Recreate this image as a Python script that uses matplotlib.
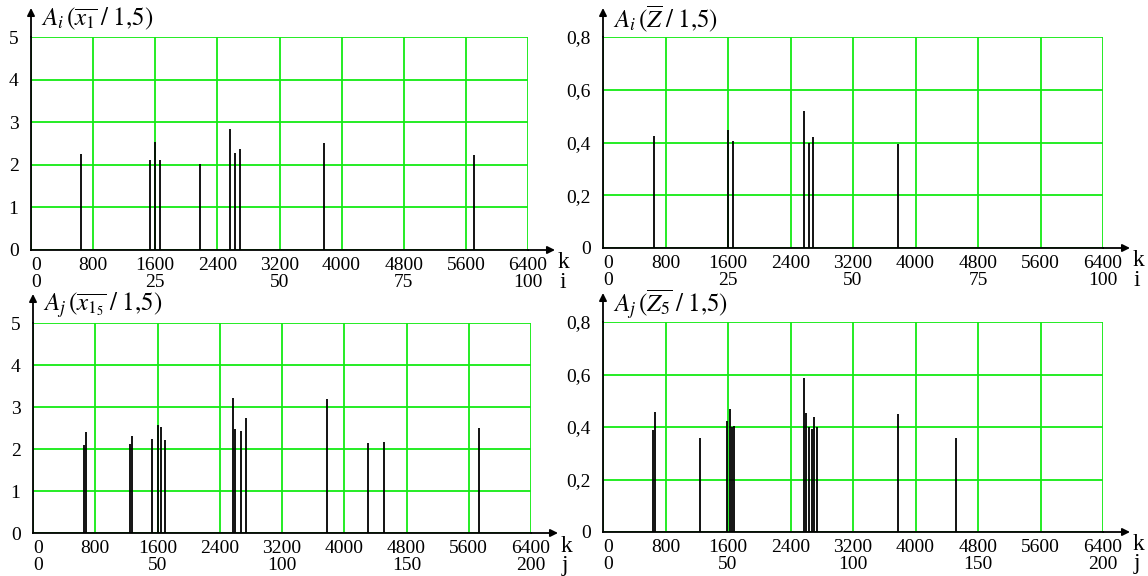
import matplotlib
matplotlib.use("Agg")
import matplotlib.pyplot as plt

# ---------------- data ----------------
k_ticks = [0, 800, 1600, 2400, 3200, 4000, 4800, 5600, 6400]
k_tick_labels = ["0", "800", "1600", "2400", "3200", "4000", "4800", "5600", "6400"]
i_ticks = [0, 25, 50, 75, 100]          # i -> k = 64*i
j_ticks = [0, 50, 100, 150, 200]        # j -> k = 32*j

y_ticks_x = [0, 1, 2, 3, 4, 5]
y_labels_x = ["0", "1", "2", "3", "4", "5"]
y_ticks_z = [0, 0.2, 0.4, 0.6, 0.8]
y_labels_z = ["0", "0,2", "0,4", "0,6", "0,8"]

# top-left: A_i(x1 / 1,5)
k_tl = [642, 1531, 1597, 1662, 2174, 2565, 2630, 2686, 3775, 5707]
a_tl = [2.26, 2.12, 2.54, 2.11, 2.01, 2.85, 2.27, 2.38, 2.51, 2.22]

# top-right: A_i(Z / 1,5)
k_tr = [647, 1601, 1663, 2569, 2636, 2688, 3774]
a_tr = [0.424, 0.449, 0.406, 0.521, 0.400, 0.420, 0.396]

# bottom-left: A_j(x1_5 / 1,5)
k_bl = [652, 680, 1246, 1277, 1535, 1600, 1639, 1690, 2572, 2602, 2671, 2739,
        3778, 4303, 4517, 5732]
a_bl = [2.10, 2.41, 2.12, 2.32, 2.25, 2.57, 2.52, 2.21, 3.21, 2.48, 2.43, 2.75,
        3.20, 2.14, 2.16, 2.51]

# bottom-right: A_j(Z5 / 1,5)
k_br = [636, 662, 1240, 1589, 1627, 1653, 1678, 2572, 2597, 2640, 2671, 2697,
        2736, 3774, 4515]
a_br = [0.389, 0.459, 0.358, 0.423, 0.470, 0.399, 0.405, 0.585, 0.453, 0.401,
        0.391, 0.438, 0.400, 0.449, 0.358]

titles = [r"$A_i\,(\overline{x_1}\;/\;\mathrm{1{,}5})$",
          r"$A_i\,(\overline{Z}\;/\;\mathrm{1{,}5})$",
          r"$A_j\,(\overline{x_{1_5}}\;/\;\mathrm{1{,}5})$",
          r"$A_j\,(\overline{Z_5}\;/\;\mathrm{1{,}5})$"]

# ---------------- style ----------------
plt.rcParams["font.family"] = ["Liberation Serif", "DejaVu Serif"]
plt.rcParams["mathtext.fontset"] = "stix"

W, H = 1148, 576
fig = plt.figure(figsize=(W / 100, H / 100), dpi=100)
GREEN = "#14ea14"

# panel boxes in pixels: left, right, top, bottom
boxes = [(31, 528, 37, 250), (603, 1103, 37, 248),
         (33, 531, 323, 533), (603, 1103, 322, 532)]

panels = [
    (k_tl, a_tl, y_ticks_x, y_labels_x, i_ticks, 64, "i", titles[0]),
    (k_tr, a_tr, y_ticks_z, y_labels_z, i_ticks, 64, "i", titles[1]),
    (k_bl, a_bl, y_ticks_x, y_labels_x, j_ticks, 32, "j", titles[2]),
    (k_br, a_br, y_ticks_z, y_labels_z, j_ticks, 32, "j", titles[3]),
]

for (l, r, t, b), (ks, amps, yt, yl, st, fac, sname, title) in zip(boxes, panels):
    aw, ah = r - l, b - t
    ax = fig.add_axes([l / W, 1 - b / H, aw / W, ah / H])
    ax.set_xlim(0, 6400)
    ax.set_ylim(0, yt[-1])
    ax.set_xticks(k_ticks)
    ax.set_xticklabels(k_tick_labels)
    ax.set_yticks(yt)
    ax.set_yticklabels(yl)
    ax.tick_params(length=0, labelsize=14, colors="black")
    ax.tick_params(axis="x", pad=5)
    ax.tick_params(axis="y", pad=9)
    ax.get_xticklabels()[0].set_ha("left")
    ax.grid(True, color=GREEN, lw=1.3)
    ax.set_axisbelow(True)
    for s in ["top", "right"]:
        ax.spines[s].set_visible(False)
    for s in ["left", "bottom"]:
        ax.spines[s].set_color("black")
        ax.spines[s].set_linewidth(1.3)
        ax.spines[s].set_zorder(5)

    ax.vlines(ks, 0, amps, color="black", lw=1.3, zorder=4)

    # second row of labels (i or j index)
    sec = ax.secondary_xaxis(-18 / ah,
                             functions=(lambda x, f=fac: x / f,
                                        lambda x, f=fac: x * f))
    sec.set_xticks(st)
    sec.set_xticklabels([str(v) for v in st])
    sec.spines["bottom"].set_visible(False)
    sec.tick_params(length=0, labelsize=14, pad=4)
    sec.get_xticklabels()[0].set_ha("left")

    # axis arrows
    ax.annotate("", xy=(0, 1 + 29 / ah), xytext=(0, 1), xycoords="axes fraction",
                arrowprops=dict(arrowstyle="-|>", color="black", lw=1.3,
                                mutation_scale=11, shrinkA=0, shrinkB=0))
    ax.annotate("", xy=(1 + 27 / aw, 0), xytext=(1, 0), xycoords="axes fraction",
                arrowprops=dict(arrowstyle="-|>", color="black", lw=1.3,
                                mutation_scale=11, shrinkA=0, shrinkB=0))
    ax.text(1 + 30 / aw, -13 / ah, "k", transform=ax.transAxes, fontsize=17,
            ha="left", va="center")
    ax.text(1 + 31 / aw, -32 / ah, sname, transform=ax.transAxes, fontsize=17,
            ha="left", va="center")

    ax.text(10 / aw, 1 + 18 / ah, title, transform=ax.transAxes, fontsize=18,
            ha="left", va="center")

fig.savefig("out.png", dpi=100)
